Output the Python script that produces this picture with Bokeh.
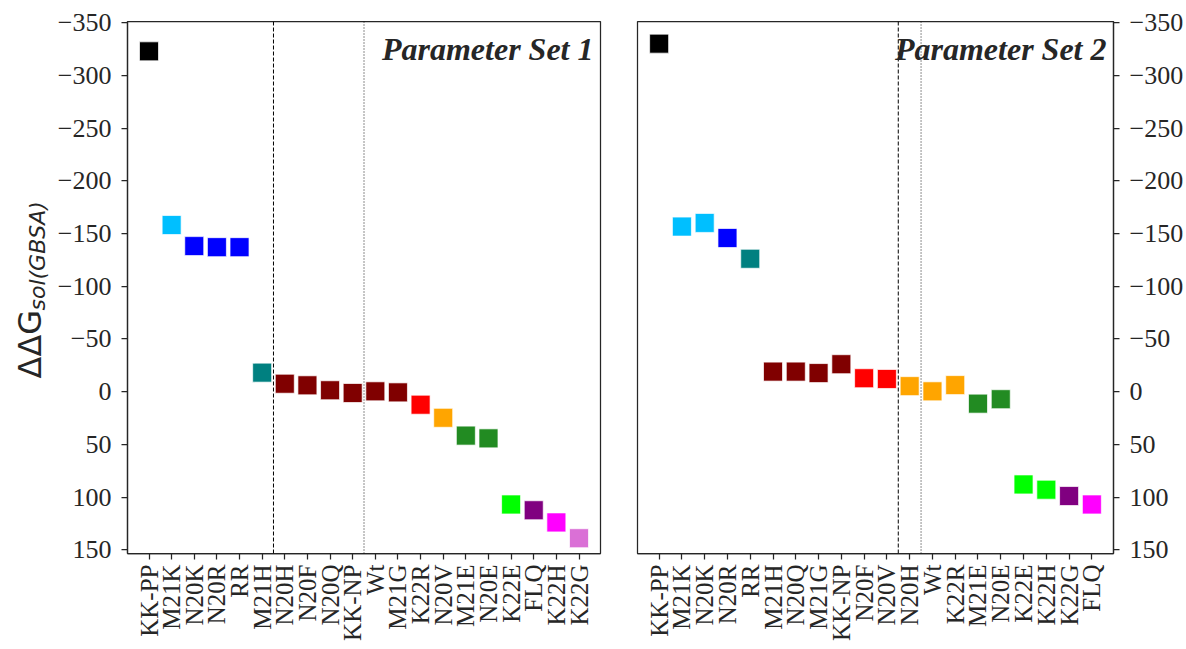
import math
from bokeh.plotting import figure
from bokeh.models import Range1d, FixedTicker, Span, Label
from bokeh.core.properties import value
from bokeh.layouts import row
from bokeh.embed import file_html
from bokeh.resources import INLINE

cats1 = ["KK-PP", "M21K", "N20K", "N20R", "RR", "M21H", "N20H", "N20F", "N20Q", "KK-NP",
         "Wt", "M21G", "K22R", "N20V", "M21E", "N20E", "K22E", "FLQ", "K22H", "K22G"]
vals1 = [-322.7, -158, -138, -137, -137, -18, -7.5, -6, -1.3, 1.3,
         -0.3, 0.7, 12.4, 24.8, 41.7, 44.3, 107, 112.5, 124, 139]
colors1 = ["black", "deepskyblue", "blue", "blue", "blue", "teal",
           "maroon", "maroon", "maroon", "maroon", "maroon", "maroon",
           "red", "orange", "forestgreen", "forestgreen", "lime", "purple", "magenta", "orchid"]
dashed1, dotted1 = 5.5, 9.5

cats2 = ["KK-PP", "M21K", "N20K", "N20R", "RR", "M21H", "N20Q", "M21G", "KK-NP", "N20F",
         "N20V", "N20H", "Wt", "K22R", "M21E", "N20E", "K22E", "K22H", "K22G", "FLQ"]
vals2 = [-330, -156.5, -160, -145.7, -126, -19, -19, -17.6, -26, -12.7,
         -12, -5.2, -0.3, -6.2, 11.4, 7.2, 88, 93, 99, 107]
colors2 = ["black", "deepskyblue", "deepskyblue", "blue", "teal",
           "maroon", "maroon", "maroon", "maroon", "red", "red",
           "orange", "orange", "orange", "forestgreen", "forestgreen", "lime", "lime", "purple", "magenta"]
dashed2, dotted2 = 10.5, 11.5

yticks = [-350, -300, -250, -200, -150, -100, -50, 0, 50, 100, 150]
titles = ["Parameter Set 1", "Parameter Set 2"]
ylabel_main = "\u0394\u0394G"
ylabel_sub = "sol(GBSA)"

INK = "#262626"
SERIF = "Liberation Serif"
TOP = 21
FH = 532
LW = 53


def make_panel(cats, vals, colors, dashed, dotted, title, side):
    n = len(cats)
    kw = dict(frame_height=FH, min_border_top=TOP, min_border_bottom=60,
              output_backend="svg", toolbar_location=None,
              x_range=Range1d(-0.05 * (n - 1), (n - 1) * 1.05),
              y_range=Range1d(153.5, -351))
    if side == "left":
        fw = 473
        p = figure(frame_width=fw, min_border_left=127 - LW, min_border_right=10, **kw)
    else:
        fw = 476
        p = figure(frame_width=fw, min_border_left=27, min_border_right=40,
                   y_axis_location="right", **kw)
    p.background_fill_color = "white"
    p.border_fill_color = "white"
    p.outline_line_color = INK
    p.outline_line_width = 1.25
    p.xgrid.visible = False
    p.ygrid.visible = False

    xs = list(range(n))
    p.scatter(xs, vals, marker="square", size=19, fill_color=colors,
              line_color="white", line_width=1, line_alpha=0.7)

    p.add_layout(Span(location=dashed, dimension="height", line_color="black",
                      line_width=1, line_dash="4 2"))
    p.add_layout(Span(location=dotted, dimension="height", line_color="black",
                      line_width=0.9, line_dash="1 2"))

    for ax in (p.xaxis[0], p.yaxis[0]):
        ax.axis_line_color = INK
        ax.axis_line_width = 1.25
        ax.major_tick_line_color = INK
        ax.major_tick_line_width = 1.25
        ax.major_tick_in = 0
        ax.major_tick_out = 6
        ax.minor_tick_line_color = None
        ax.major_label_text_font = SERIF
        ax.major_label_text_color = INK

    p.xaxis.major_label_text_font_size = "25px"
    p.yaxis.major_label_text_font_size = "26px"
    p.xaxis.ticker = FixedTicker(ticks=xs)
    p.xaxis.major_label_overrides = {i: c for i, c in enumerate(cats)}
    p.xaxis.major_label_orientation = math.pi / 2
    p.xaxis.major_label_standoff = 5

    p.yaxis.ticker = FixedTicker(ticks=yticks)
    p.yaxis.major_label_overrides = {t: str(t).replace("-", "\u2212") for t in yticks}
    p.yaxis.major_label_standoff = 10

    p.add_layout(Label(x=fw - 7, y=FH - 27, x_units="screen", y_units="screen",
                       text=title, text_align="right", text_baseline="alphabetic",
                       text_font=SERIF, text_font_style="bold italic",
                       text_font_size="32px", text_color=INK))
    return p


# narrow panel holding the y-axis label
pl = figure(frame_width=LW, frame_height=FH, min_border_left=0, min_border_right=0,
            min_border_top=TOP, min_border_bottom=0,
            x_range=Range1d(0, LW), y_range=Range1d(0, FH),
            output_backend="svg", toolbar_location=None)
pl.axis.visible = False
pl.grid.visible = False
pl.outline_line_color = None
pl.background_fill_color = "white"
pl.border_fill_color = "white"
pl.text(x=[29], y=[175], text=[ylabel_main], angle=math.pi / 2,
        text_align="left", text_baseline="alphabetic",
        text_font=value("DejaVu Sans"), text_font_size="32px", text_color=INK)
pl.text(x=[37], y=[243], text=[ylabel_sub], angle=math.pi / 2,
        text_align="left", text_baseline="alphabetic",
        text_font=value("DejaVu Sans"), text_font_style="italic",
        text_font_size="22px", text_color=INK)

p1 = make_panel(cats1, vals1, colors1, dashed1, dotted1, titles[0], "left")
p2 = make_panel(cats2, vals2, colors2, dashed2, dotted2, titles[1], "right")

layout = row(pl, p1, p2)
open("out.html", "w").write(file_html(layout, INLINE))
